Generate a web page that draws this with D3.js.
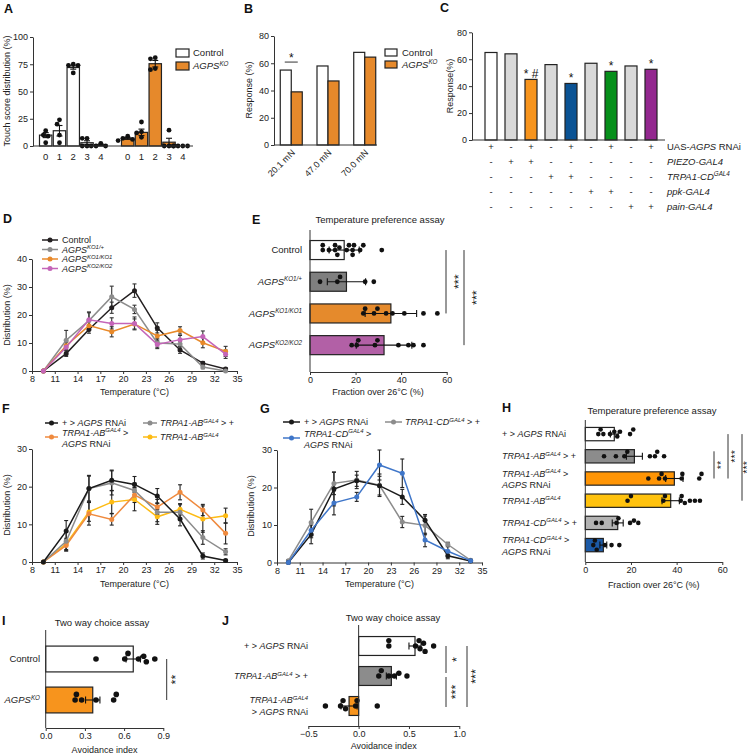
<!DOCTYPE html>
<html>
<head>
<meta charset="utf-8">
<script src="https://cdn.jsdelivr.net/npm/d3@7/dist/d3.min.js"></script>
<style>
  body { margin: 0; background: #fff; }
  text { white-space: pre; }
</style>
</head>
<body>
<div id="container"></div>
<script>
const FONT = '"Liberation Sans", Arial, Helvetica, sans-serif';
const ORANGE = "#f7941d", ORANGE_A = "#e6892b";

/**************************
* Data
**************************/
// A - touch score distribution
const aScores = ["0", "1", "2", "3", "4"];
const aCtrlMean = [10, 14, 72, 3, 1];
const aCtrlSem = [2.3, 4.8, 1.5, 1.8, 0.6];
const aCtrlDots = [[14, 10, 9, 3], [24, 20, 10, 3], [75, 74, 74, 67], [7, 7, 0, 0], [2.5, 0, 0, 0]];
const aKoMean = [7, 12.5, 75.5, 3.5, 0];
const aKoSem = [0.9, 3, 3, 3.6, 0];
const aKoDots = [[9, 7, 6, 5], [22, 13, 12, 8], [81, 80, 71, 70], [14.5, 0, 0, 0], [0, 0, 0, 0]];

// B - von Frey response
const bForces = ["20.1 mN", "47.0 mN", "70.0 mN"];
const bControl = [55, 58, 68];
const bKo = [39, 47, 64.5];
const bSig = ["*", "", ""];

// C - RNAi screen
const cResponse = [65, 64, 45, 56, 42, 57, 51, 55, 52.5];
const cSig = ["", "", "* #", "", "*", "", "*", "", "*"];
const cRowLabels = ["UAS-<i>AGPS</i> RNAi", "<i>PIEZO-GAL4</i>", "<i>TRPA1-CD<sup>GAL4</sup></i>", "<i>ppk-GAL4</i>", "<i>pain-GAL4</i>"];
const cRowSigns = ["+-+-+-+-+", "-++------", "---++----", "-----++--", "-------++"];

// D, F, G - temperature distribution
const temps = [9.5, 12.5, 15.5, 18.5, 21.5, 24.5, 27.5, 30.5, 33.5];
const tempTicks = [8, 11, 14, 17, 20, 23, 26, 29, 32, 35];

const dNames = ["Control", "<i>AGPS<sup>KO1/+</sup></i>", "<i>AGPS<sup>KO1/KO1</sup></i>", "<i>AGPS<sup>KO2/KO2</sup></i>"];
const dControl = [0, 6.2, 14.8, 22.6, 28.7, 15.4, 7.5, 2.8, 0.7];
const dControlErr = [0, 1, 1.3, 2, 2.4, 1.8, 1.2, 0.6, 0.5];
const dKo1Het = [0, 11, 18, 26.5, 22, 10, 9.6, 1.4, 0];
const dKo1HetErr = [0, 3.5, 2.8, 3.8, 1.5, 1.5, 1, 0.6, 0.3];
const dKo1 = [0, 9, 16.2, 14, 16.8, 12.5, 14.5, 10.1, 7];
const dKo1Err = [0, 1.5, 1.5, 1.8, 1.8, 2, 1.3, 1.8, 1.8];
const dKo2 = [0, 8.5, 18.3, 17, 17, 9.5, 11.2, 12.3, 6];
const dKo2Err = [0, 1.8, 2.8, 2, 2.3, 1.5, 1.5, 2, 1.5];

const fNames = ["+ > <i>AGPS</i> RNAi", "<i>TRPA1-AB<sup>GAL4</sup></i> > +", "<i>TRPA1-AB<sup>GAL4</sup></i> >", "<i>TRPA1-AB<sup>GAL4</sup></i>"];
const fRnai = [0, 8.2, 19.5, 21.7, 20.6, 17.5, 11.4, 1.6, 0.4];
const fRnaiErr = [0, 2.8, 3.3, 2.7, 2.1, 2, 1.8, 0.8, 0.3];
const fGalHet = [0, 5.5, 19.5, 21, 19, 13.2, 13.2, 6.5, 2.7];
const fGalHetErr = [0, 2.5, 3.5, 3.2, 2, 2.5, 2, 1.8, 0.8];
const fKnock = [0, 4.4, 12.8, 11.3, 17.8, 14.6, 18.5, 13.8, 7.6];
const fKnockErr = [0, 1.5, 3, 1.5, 2, 2, 2, 1.5, 2.8];
const fGal = [0, 4.8, 13.3, 15.9, 16.6, 12, 14, 11.4, 12.3];
const fGalErr = [0, 1.5, 2.5, 3, 3, 2, 1.5, 3.5, 2];

const gNames = ["+ > <i>AGPS</i> RNAi", "<i>TRPA1-CD<sup>GAL4</sup></i> > +", "<i>TRPA1-CD<sup>GAL4</sup></i> >"];
const gRnai = [0, 7.5, 19.6, 21.8, 20.5, 17.5, 11.3, 1.8, 0.4];
const gRnaiErr = [0, 2.5, 4.5, 1.5, 2.5, 2, 1.5, 0.8, 0.3];
const gGalHet = [0.5, 10.7, 21.1, 22, 20.6, 10.8, 9.9, 4.8, 0.6];
const gGalHetErr = [0.3, 3.5, 3, 2.3, 3, 1.5, 2.5, 0.6, 0.3];
const gKnock = [0, 8.6, 15.9, 17.5, 26, 23.8, 6, 3, 0.5];
const gKnockErr = [0, 2, 3.2, 1.2, 4, 3.8, 1.8, 1.5, 0.3];

// E - temperature preference
const eGroups = ["Control", "<i>AGPS<sup>KO1/+</sup></i>", "<i>AGPS<sup>KO1/KO1</sup></i>", "<i>AGPS<sup>KO2/KO2</sup></i>"];
const eMean = [15, 16, 35.5, 32.5];
const eSd = [6.6, 8.4, 11.3, 12.2];
const eDots = [
  [5.6, 5.6, 8.3, 11, 11, 12, 12.9, 16.1, 17.1, 18.7, 18.7, 19.3, 22, 23.4, 31.5],
  [4.4, 12, 13.2, 24.2, 28],
  [23.4, 24.2, 28.1, 29.6, 33.4, 36.2, 41.4, 49.8, 55.9],
  [18.3, 20.5, 21.2, 28.5, 29.6, 38.8, 43.2, 45.4, 49.8]
];

// H - temperature preference, TRPA1 lines
const hGroups = [
  ["+ > <i>AGPS</i> RNAi"],
  ["<i>TRPA1-AB<sup>GAL4</sup></i> > +"],
  ["<i>TRPA1-AB<sup>GAL4</sup></i> >", "<i>AGPS</i> RNAi"],
  ["<i>TRPA1-AB<sup>GAL4</sup></i>"],
  ["<i>TRPA1-CD<sup>GAL4</sup></i> > +"],
  ["<i>TRPA1-CD<sup>GAL4</sup></i> >", "<i>AGPS</i> RNAi"]
];
const hMean = [12.7, 21.5, 39, 37.4, 14.2, 7.9];
const hSem = [1.7, 3.5, 3.8, 3.8, 2.4, 1.5];
const hDots = [
  [5.7, 6.7, 7.9, 10.8, 12.7, 14, 15.2, 19.6, 21],
  [8.2, 13.4, 17.1, 18.4, 28.3, 30.5, 31.5, 34.5],
  [27.6, 32.3, 33.4, 34.9, 42.2, 42.5, 49.9, 50.9],
  [18.5, 20, 34.2, 34.9, 41.8, 42.2, 43.6, 45.8, 48, 50.2],
  [4.7, 7.2, 13.7, 14.5, 19.6, 21.3, 23.2],
  [3.5, 4.2, 5, 8.6, 11.5, 14.9]
];

// I - two way choice
const iGroups = ["Control", "<i>AGPS<sup>KO</sup></i>"];
const iMean = [0.67, 0.36];
const iSem = [0.055, 0.055];
const iDots = [[0.385, 0.605, 0.63, 0.71, 0.75, 0.77, 0.835], [0.225, 0.235, 0.275, 0.385, 0.52, 0.54]];

// J - two way choice, TRPA1-AB
const jGroups = [
  ["+ > <i>AGPS</i> RNAi"],
  ["<i>TRPA1-AB<sup>GAL4</sup></i> > +"],
  ["<i>TRPA1-AB<sup>GAL4</sup></i>", "> <i>AGPS</i> RNAi"]
];
const jMean = [0.56, 0.325, -0.095];
const jSem = [0.06, 0.05, 0.08];
const jDots = [
  [0.30, 0.30, 0.565, 0.6, 0.61, 0.645, 0.66, 0.745],
  [0.2, 0.225, 0.3, 0.355, 0.4, 0.48],
  [-0.33, -0.18, -0.155, -0.13, -0.03, -0.016, 0.185]
];

/**************************
* Helpers
**************************/
let svg = d3.select("#container").append("svg")
  .attr("width", 754).attr("height", 755)
  .attr("font-family", FONT);
svg.append("rect").attr("width", 754).attr("height", 755).attr("fill", "#fff");

// text with <i> and <sup> tags
function richText(sel, str, size) {
  const parts = str.split(/(<\/?i>|<\/?sup>)/).filter(s => s.length);
  let it = false, sup = false, shift = 0;
  parts.forEach(p => {
    if (p === "<i>") it = true;
    else if (p === "</i>") it = false;
    else if (p === "<sup>") { sup = true; shift = -size * 0.4; }
    else if (p === "</sup>") { sup = false; shift = size * 0.4; }
    else {
      const t = sel.append("tspan").text(p);
      if (it) t.attr("font-style", "italic");
      if (sup) t.attr("font-size", size * 0.66);
      if (shift) { t.attr("dy", shift); shift = 0; }
    }
  });
}

function label(g, x, y, str, opt = {}) {
  const size = opt.size || 9;
  const t = g.append("text")
    .attr("x", x).attr("y", y + size * 0.35)
    .attr("font-size", size)
    .attr("fill", opt.fill || "#222")
    .attr("text-anchor", opt.anchor || "start");
  if (opt.weight) t.attr("font-weight", opt.weight);
  if (opt.rotate) t.attr("transform", `rotate(${opt.rotate},${x},${y})`);
  richText(t, str, size);
  return t;
}

function letter(x, y, s) {
  label(svg, x, y, s, { size: 12.5, weight: "bold", fill: "#111" });
}

function styleAxis(g) {
  g.attr("font-family", FONT).attr("font-size", 9);
  g.selectAll("path, line").attr("stroke", "#333").attr("stroke-width", 1);
  g.selectAll("text").attr("fill", "#222");
}

function hline(g, x1, x2, y) {
  g.append("line").attr("x1", x1).attr("x2", x2).attr("y1", y).attr("y2", y)
    .attr("stroke", "#333").attr("stroke-width", 1);
}
function vline(g, x, y1, y2) {
  g.append("line").attr("x1", x).attr("x2", x).attr("y1", y1).attr("y2", y2)
    .attr("stroke", "#333").attr("stroke-width", 1);
}

function vErr(g, cx, y1, y2, w, color) {
  const e = g.append("g").attr("stroke", color || "#111").attr("stroke-width", 1.1);
  e.append("line").attr("x1", cx).attr("x2", cx).attr("y1", y1).attr("y2", y2);
  e.append("line").attr("x1", cx - w / 2).attr("x2", cx + w / 2).attr("y1", y1).attr("y2", y1);
  e.append("line").attr("x1", cx - w / 2).attr("x2", cx + w / 2).attr("y1", y2).attr("y2", y2);
}
function hErr(g, cy, x1, x2, h) {
  const e = g.append("g").attr("stroke", "#111").attr("stroke-width", 1.1);
  e.append("line").attr("x1", x1).attr("x2", x2).attr("y1", cy).attr("y2", cy);
  e.append("line").attr("x1", x1).attr("x2", x1).attr("y1", cy - h / 2).attr("y2", cy + h / 2);
  e.append("line").attr("x1", x2).attr("x2", x2).attr("y1", cy - h / 2).attr("y2", cy + h / 2);
}

// simple beeswarm: p = position along value axis, o = offset across
function swarm(vals, scale, r) {
  const placed = [];
  return vals.map(v => {
    const p = scale(v);
    let o = 0;
    for (let k = 0; k < 30; k++) {
      const cand = k === 0 ? 0 : (k % 2 ? -1 : 1) * Math.ceil(k / 2) * r;
      if (placed.every(q => Math.hypot(q.p - p, q.o - cand) >= 1.9 * r)) { o = cand; break; }
    }
    placed.push({ p, o });
    return { p, o };
  });
}

// vertical significance bar with rotated asterisks
function sigLine(g, x, y1, y2, txt, tx, size = 12.5) {
  vline(g, x, y1, y2);
  label(g, tx + size * 0.2, (y1 + y2) / 2, txt, { size: size, anchor: "middle", rotate: -90, fill: "#111" })
    .attr("fill-opacity", 0.99);
}

// horizontal bar + scatter
function hBars(g, x, y, keys, means, errs, dots, fills, r) {
  keys.forEach((k, i) => {
    const m = means[i];
    g.append("rect")
      .attr("x", Math.min(x(0), x(m))).attr("y", y(k))
      .attr("width", Math.abs(x(m) - x(0))).attr("height", y.bandwidth())
      .attr("fill", fills[i]).attr("stroke", "#222").attr("stroke-width", 1.2);
  });
  keys.forEach((k, i) => {
    const cy = y(k) + y.bandwidth() / 2;
    swarm(dots[i], x, r).forEach(p =>
      g.append("circle").attr("cx", p.p).attr("cy", cy + p.o).attr("r", r).attr("fill", "#111"));
    hErr(g, cy, x(means[i] - errs[i]), x(means[i] + errs[i]), 7);
  });
}

// temperature line chart
function lineChart(g, x, y, series, errColor) {
  const line = d3.line().x((d, i) => x(temps[i])).y(d => y(d));
  series.forEach(s => {
    s.vals.forEach((v, i) => {
      if (s.errs[i] > 0) vErr(g, x(temps[i]), y(Math.max(0, v - s.errs[i])), y(v + s.errs[i]), 4, errColor || s.color);
    });
  });
  series.forEach(s => {
    g.append("path").datum(s.vals).attr("d", line)
      .attr("fill", "none").attr("stroke", s.color).attr("stroke-width", 1.5);
    g.selectAll(null).data(s.vals).join("circle")
      .attr("cx", (d, i) => x(temps[i])).attr("cy", d => y(d))
      .attr("r", 2.5).attr("fill", s.color);
  });
}

function legendLine(g, x1, x2, y, color) {
  g.append("line").attr("x1", x1).attr("x2", x2).attr("y1", y).attr("y2", y)
    .attr("stroke", color).attr("stroke-width", 1.5);
  g.append("circle").attr("cx", (x1 + x2) / 2).attr("cy", y).attr("r", 2.5).attr("fill", color);
}

/**************************
* A
**************************/
{
  const g = svg.append("g");
  letter(4, 8.5, "A");
  const y = d3.scaleLinear().domain([0, 100]).range([146, 37]);
  const xs = [
    d3.scaleBand().domain(aScores).range([39.5, 107]).paddingInner(0.1),
    d3.scaleBand().domain(aScores).range([121.5, 189]).paddingInner(0.1)
  ];
  g.append("g").attr("transform", "translate(33,0)")
    .call(d3.axisLeft(y).tickValues([0, 25, 50, 75, 100]).tickSize(3).tickSizeOuter(0).tickPadding(2))
    .call(styleAxis);
  label(g, 7, 91, "Touch score distribution (%)", { size: 9, anchor: "middle", rotate: -90 });

  const series = [
    { mean: aCtrlMean, sem: aCtrlSem, dots: aCtrlDots, fill: "#fff" },
    { mean: aKoMean, sem: aKoSem, dots: aKoDots, fill: ORANGE_A }
  ];
  series.forEach((s, k) => {
    const x = xs[k];
    g.selectAll(null).data(aScores).join("rect")
      .attr("x", d => x(d)).attr("width", x.bandwidth())
      .attr("y", (d, i) => y(s.mean[i])).attr("height", (d, i) => y(0) - y(s.mean[i]))
      .attr("fill", s.fill).attr("stroke", "#222").attr("stroke-width", 1.2);
    aScores.forEach((d, i) => {
      const cx = x(d) + x.bandwidth() / 2;
      swarm(s.dots[i], y, 2.4).forEach(p =>
        g.append("circle").attr("cx", cx + p.o).attr("cy", p.p).attr("r", 2.4).attr("fill", "#111"));
      if (s.sem[i] > 0) vErr(g, cx, y(Math.max(0, s.mean[i] - s.sem[i])), y(s.mean[i] + s.sem[i]), 6);
      label(g, cx, 157, d, { size: 9.5, anchor: "middle" });
    });
  });
  hline(g, 33, 193, 146);

  g.append("rect").attr("x", 176).attr("y", 49).attr("width", 13).attr("height", 8)
    .attr("fill", "#fff").attr("stroke", "#222").attr("stroke-width", 1.2);
  g.append("rect").attr("x", 176).attr("y", 62).attr("width", 13).attr("height", 8)
    .attr("fill", ORANGE_A).attr("stroke", "#222").attr("stroke-width", 1.2);
  label(g, 193, 53, "Control", { size: 9.5 });
  label(g, 193, 66, "<i>AGPS<sup>KO</sup></i>", { size: 9.5 });
}

/**************************
* B
**************************/
{
  const g = svg.append("g");
  letter(244, 8.5, "B");
  const y = d3.scaleLinear().domain([0, 80]).range([145, 36]);
  const x = d3.scalePoint().domain(bForces).range([274, 382]).padding(0.47);
  const sub = d3.scaleBand().domain(["Control", "KO"]).range([-11, 11]);
  g.append("g").attr("transform", "translate(274,0)")
    .call(d3.axisLeft(y).tickValues([0, 20, 40, 60, 80]).tickSize(3).tickSizeOuter(0).tickPadding(2))
    .call(styleAxis);
  label(g, 249, 90, "Response (%)", { size: 9, anchor: "middle", rotate: -90 });

  bForces.forEach((f, i) => {
    const c = x(f);
    [[bControl[i], "#fff", "Control"], [bKo[i], ORANGE_A, "KO"]].forEach(([v, fill, k]) => {
      g.append("rect").attr("x", c + sub(k)).attr("width", sub.bandwidth())
        .attr("y", y(v)).attr("height", y(0) - y(v))
        .attr("fill", fill).attr("stroke", "#222").attr("stroke-width", 1.2);
    });
    label(g, c + 2, 151, f, { size: 9, anchor: "end", rotate: -45 });
    if (bSig[i]) {
      const top = y(Math.max(bControl[i], bKo[i]));
      hline(g, c - 6.5, c + 6.5, top - 8);
      label(g, c, top - 12.4, bSig[i], { size: 12, anchor: "middle", fill: "#111" });
    }
  });
  hline(g, 274, 377, 145);

  g.append("rect").attr("x", 385).attr("y", 49).attr("width", 12).attr("height", 7)
    .attr("fill", "#fff").attr("stroke", "#222").attr("stroke-width", 1.2);
  g.append("rect").attr("x", 385).attr("y", 61).attr("width", 12).attr("height", 7)
    .attr("fill", ORANGE_A).attr("stroke", "#222").attr("stroke-width", 1.2);
  label(g, 402, 52.5, "Control", { size: 9.5 });
  label(g, 402, 64.5, "<i>AGPS<sup>KO</sup></i>", { size: 9.5 });
}

/**************************
* C
**************************/
{
  const g = svg.append("g");
  letter(440, 7.5, "C");
  const y = d3.scaleLinear().domain([0, 80]).range([140, 32.3]);
  const x = d3.scaleBand().domain(d3.range(cResponse.length)).range([481, 661])
    .paddingInner(0.4).paddingOuter(0.2);
  const cFill = ["#fff", "#d9d9d9", ORANGE, "#d9d9d9", "#0b5394", "#d9d9d9", "#07901b", "#d9d9d9", "#93278f"];
  g.append("g").attr("transform", "translate(472,0)")
    .call(d3.axisLeft(y).tickValues([0, 20, 40, 60, 80]).tickSize(3).tickSizeOuter(0).tickPadding(2))
    .call(styleAxis);
  label(g, 450, 86, "Response(%)", { size: 9, anchor: "middle", rotate: -90 });

  cResponse.forEach((v, i) => {
    g.append("rect").attr("x", x(i)).attr("width", x.bandwidth())
      .attr("y", y(v)).attr("height", y(0) - y(v))
      .attr("fill", cFill[i]).attr("stroke", "#222").attr("stroke-width", 1.2);
    if (cSig[i]) label(g, x(i) + x.bandwidth() / 2, y(v) - 5.5, cSig[i], { size: 12, anchor: "middle", fill: "#111" });
  });
  hline(g, 472, 665, 140);

  cRowSigns.forEach((row, r) => {
    const ry = 147 + r * 14.8;
    row.split("").forEach((s, i) =>
      label(g, x(i) + x.bandwidth() / 2, ry, s === "-" ? "-" : "+", { size: 9.5, anchor: "middle" }));
    label(g, 667, ry, cRowLabels[r], { size: 9.5 });
  });
}

/**************************
* D
**************************/
{
  const g = svg.append("g");
  letter(3, 219, "D");
  const x = d3.scaleLinear().domain([8, 35]).range([32, 237]);
  const y = d3.scaleLinear().domain([0, 40]).range([371, 259]);
  g.append("g").attr("transform", "translate(32,0)")
    .call(d3.axisLeft(y).tickValues([0, 10, 20, 30, 40]).tickSize(3).tickSizeOuter(0).tickPadding(2))
    .call(styleAxis);
  g.append("g").attr("transform", "translate(0,371)")
    .call(d3.axisBottom(x).tickValues(tempTicks).tickSize(3).tickSizeOuter(0).tickPadding(2))
    .call(styleAxis);
  label(g, 7, 315, "Distribution (%)", { size: 9, anchor: "middle", rotate: -90 });
  label(g, 134.5, 392, "Temperature (°C)", { size: 9, anchor: "middle" });

  const colors = ["#231f20", "#8c8c8c", "#e8892a", "#c465b8"];
  const series = [
    { vals: dControl, errs: dControlErr, color: colors[0] },
    { vals: dKo1Het, errs: dKo1HetErr, color: colors[1] },
    { vals: dKo1, errs: dKo1Err, color: colors[2] },
    { vals: dKo2, errs: dKo2Err, color: colors[3] }
  ];
  lineChart(g, x, y, series, "#333");
  dNames.forEach((n, i) => {
    legendLine(g, 42, 58, 240 + i * 9.5, colors[i]);
    label(g, 62, 240 + i * 9.5, n, { size: 9 });
  });
}

/**************************
* E
**************************/
{
  const g = svg.append("g");
  letter(252, 220, "E");
  const x = d3.scaleLinear().domain([0, 60]).range([310, 446.7]);
  const y = d3.scaleBand().domain(eGroups).range([234.2, 361]).paddingInner(0.4).paddingOuter(0.2);
  label(g, 380, 220, "Temperature preference assay", { size: 9.5, anchor: "middle" });
  hBars(g, x, y, eGroups, eMean, eSd, eDots, ["#fff", "#7f7f7f", "#e58a2c", "#b260a6"], 2.4);
  vline(g, 310, 230, 372);
  g.append("g").attr("transform", "translate(0,372)")
    .call(d3.axisBottom(x).tickValues([0, 20, 40, 60]).tickSize(3).tickSizeOuter(0).tickPadding(2))
    .call(styleAxis);
  label(g, 378, 392, "Fraction over 26°C (%)", { size: 9, anchor: "middle" });
  eGroups.forEach(k => label(g, 302, y(k) + y.bandwidth() / 2, k, { size: 9.5, anchor: "end" }));
  const c = k => y(eGroups[k]) + y.bandwidth() / 2;
  sigLine(g, 446, c(0), c(2), "***", 456);
  sigLine(g, 464, c(0), c(3), "***", 474);
}

/**************************
* F
**************************/
{
  const g = svg.append("g");
  letter(2, 409, "F");
  const x = d3.scaleLinear().domain([8, 35]).range([32, 237]);
  const y = d3.scaleLinear().domain([0, 30]).range([562, 449]);
  g.append("g").attr("transform", "translate(32,0)")
    .call(d3.axisLeft(y).tickValues([0, 10, 20, 30]).tickSize(3).tickSizeOuter(0).tickPadding(2))
    .call(styleAxis);
  g.append("g").attr("transform", "translate(0,562)")
    .call(d3.axisBottom(x).tickValues(tempTicks).tickSize(3).tickSizeOuter(0).tickPadding(2))
    .call(styleAxis);
  label(g, 7, 505, "Distribution (%)", { size: 9, anchor: "middle", rotate: -90 });
  label(g, 134.5, 584, "Temperature (°C)", { size: 9, anchor: "middle" });

  const colors = ["#1a1a1a", "#8c8c8c", "#ef8a3e", "#fdbb14"];
  lineChart(g, x, y, [
    { vals: fGal, errs: fGalErr, color: colors[3] },
    { vals: fKnock, errs: fKnockErr, color: colors[2] },
    { vals: fGalHet, errs: fGalHetErr, color: colors[1] },
    { vals: fRnai, errs: fRnaiErr, color: colors[0] }
  ], "#222");
  legendLine(g, 45, 58, 423, colors[0]);
  label(g, 62, 423, fNames[0], { size: 9 });
  legendLine(g, 143, 157, 423, colors[1]);
  label(g, 160, 423, fNames[1], { size: 9 });
  legendLine(g, 45, 58, 437, colors[2]);
  label(g, 62, 432.5, fNames[2], { size: 9 });
  label(g, 62, 444, "<i>AGPS</i> RNAi", { size: 9 });
  legendLine(g, 143, 157, 437, colors[3]);
  label(g, 160, 437, fNames[3], { size: 9 });
}

/**************************
* G
**************************/
{
  const g = svg.append("g");
  letter(260, 409, "G");
  const x = d3.scaleLinear().domain([8, 35]).range([277, 482]);
  const y = d3.scaleLinear().domain([0, 30]).range([562.5, 450]);
  g.append("g").attr("transform", "translate(277,0)")
    .call(d3.axisLeft(y).tickValues([0, 10, 20, 30]).tickSize(3).tickSizeOuter(0).tickPadding(2))
    .call(styleAxis);
  g.append("g").attr("transform", "translate(0,562.5)")
    .call(d3.axisBottom(x).tickValues(tempTicks).tickSize(3).tickSizeOuter(0).tickPadding(2))
    .call(styleAxis);
  label(g, 251, 506, "Distribution (%)", { size: 9, anchor: "middle", rotate: -90 });
  label(g, 379.5, 584, "Temperature (°C)", { size: 9, anchor: "middle" });

  const colors = ["#1a1a1a", "#8c8c8c", "#3f76c9"];
  lineChart(g, x, y, [
    { vals: gGalHet, errs: gGalHetErr, color: colors[1] },
    { vals: gRnai, errs: gRnaiErr, color: colors[0] },
    { vals: gKnock, errs: gKnockErr, color: colors[2] }
  ], "#222");
  legendLine(g, 283, 300, 422, colors[0]);
  label(g, 304, 422, gNames[0], { size: 9 });
  legendLine(g, 385, 402, 422, colors[1]);
  label(g, 405, 422, gNames[1], { size: 9 });
  legendLine(g, 283, 300, 438, colors[2]);
  label(g, 304, 433.5, gNames[2], { size: 9 });
  label(g, 304, 444.5, "<i>AGPS</i> RNAi", { size: 9 });
}

/**************************
* H
**************************/
{
  const g = svg.append("g");
  letter(502, 407.5, "H");
  const keys = hGroups.map((d, i) => i);
  const x = d3.scaleLinear().domain([0, 60]).range([585.3, 722.3]);
  const y = d3.scaleBand().domain(keys).range([423, 556.2]).paddingInner(0.4).paddingOuter(0.2);
  label(g, 652, 411, "Temperature preference assay", { size: 9.5, anchor: "middle" });
  hBars(g, x, y, keys, hMean, hSem, hDots,
    ["#fff", "#8c8c8c", "#ff9505", "#ffc20e", "#b3b3b3", "#1c5aa6"], 2.3);
  vline(g, 585.3, 420, 562);
  g.append("g").attr("transform", "translate(0,562)")
    .call(d3.axisBottom(x).tickValues([0, 20, 40, 60]).tickSize(3).tickSizeOuter(0).tickPadding(2))
    .call(styleAxis);
  label(g, 653.7, 585, "Fraction over 26°C (%)", { size: 9, anchor: "middle" });
  hGroups.forEach((lines, i) => {
    const cy = y(i) + y.bandwidth() / 2;
    if (lines.length === 1) label(g, 502, cy, lines[0], { size: 9 });
    else { label(g, 502, cy - 5, lines[0], { size: 9 }); label(g, 502, cy + 6.5, lines[1], { size: 9 }); }
  });
  const c = k => y(k) + y.bandwidth() / 2;
  sigLine(g, 714, c(1) - 5, c(2), "**", 718.5, 11);
  sigLine(g, 728, c(0), c(2), "***", 732.5, 11);
  sigLine(g, 742, c(0), c(3), "***", 745, 11);
}

/**************************
* I
**************************/
{
  const g = svg.append("g");
  letter(2, 621, "I");
  const x = d3.scaleLinear().domain([0, 0.9]).range([45.7, 163.3]);
  const y = d3.scaleBand().domain(iGroups).range([638.5, 720.5]).paddingInner(0.37).paddingOuter(0.185);
  label(g, 102, 623, "Two way choice assay", { size: 9.5, anchor: "middle" });
  hBars(g, x, y, iGroups, iMean, iSem, iDots, ["#fff", ORANGE], 2.8);
  vline(g, 45.7, 630, 728);
  g.append("g").attr("transform", "translate(0,728)")
    .call(d3.axisBottom(x).tickValues([0, 0.3, 0.6, 0.9]).tickFormat(d3.format(".1f"))
      .tickSize(3).tickSizeOuter(0).tickPadding(2))
    .call(styleAxis);
  label(g, 104.5, 749.5, "Avoidance index", { size: 9, anchor: "middle" });
  iGroups.forEach(k => label(g, 40, y(k) + y.bandwidth() / 2, k, { size: 9.5, anchor: "end" }));
  const c = k => y(iGroups[k]) + y.bandwidth() / 2;
  sigLine(g, 166.7, c(0), c(1), "**", 173.5);
}

/**************************
* J
**************************/
{
  const g = svg.append("g");
  letter(222, 621, "J");
  const keys = jGroups.map((d, i) => i);
  const x = d3.scaleLinear().domain([-0.5, 1]).range([308.3, 459.3]);
  const y = d3.scaleBand().domain(keys).range([631, 721]).paddingInner(0.37).paddingOuter(0.185);
  label(g, 393, 618, "Two way choice assay", { size: 9.5, anchor: "middle" });
  hBars(g, x, y, keys, jMean, jSem, jDots, ["#fff", "#8c8c8c", ORANGE], 2.7);
  vline(g, x(0), 625, 726);
  g.append("g").attr("transform", "translate(0,726)")
    .call(d3.axisBottom(x).tickValues([-0.5, 0, 0.5, 1]).tickFormat(d3.format(".1f"))
      .tickSize(3).tickSizeOuter(0).tickPadding(2))
    .call(styleAxis);
  label(g, 383.7, 746, "Avoidance index", { size: 9, anchor: "middle" });
  jGroups.forEach((lines, i) => {
    const cy = y(i) + y.bandwidth() / 2;
    if (lines.length === 1) label(g, 308, cy, lines[0], { size: 9, anchor: "end" });
    else { label(g, 308, cy - 6, lines[0], { size: 9, anchor: "end" }); label(g, 308, cy + 6, lines[1], { size: 9, anchor: "end" }); }
  });
  const c = k => y(k) + y.bandwidth() / 2;
  sigLine(g, 446, c(0), c(1) - 3, "*", 454);
  sigLine(g, 446, c(1) + 1, c(2) + 1, "***", 453);
  sigLine(g, 467, c(0), c(2) + 1, "***", 473.3);
}
</script>
</body>
</html>
